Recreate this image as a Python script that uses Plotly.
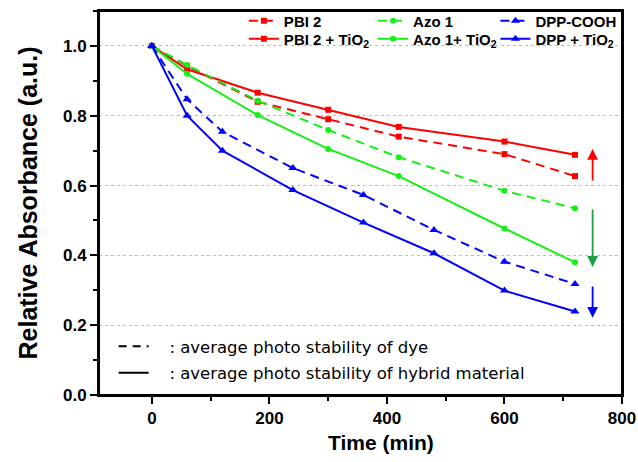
import plotly.graph_objects as go

# ---- data ----
t_pbi = [0, 60, 180, 300, 420, 600, 720]
pbi2 = [1.0, 0.943, 0.84, 0.79, 0.74, 0.69, 0.627]
pbi2_tio2 = [1.0, 0.933, 0.866, 0.817, 0.768, 0.726, 0.688]
azo1 = [1.0, 0.945, 0.843, 0.759, 0.681, 0.585, 0.535]
azo1_tio2 = [1.0, 0.92, 0.802, 0.705, 0.627, 0.477, 0.38]
t_dpp = [0, 60, 120, 240, 360, 480, 600, 720]
dpp = [1.0, 0.847, 0.754, 0.65, 0.573, 0.473, 0.382, 0.318]
dpp_tio2 = [1.0, 0.80, 0.70, 0.587, 0.494, 0.406, 0.299, 0.239]

# axis ranges
x_range = [-90, 800]
y_range = [0, 1.1]

# arrows: (x, tail y, head y, colour)
arrow_x = 750
arrows = [(0.610, 0.705, "#ff0000"), (0.536, 0.367, "#1f9e45"), (0.315, 0.221, "#0000ff")]

RED, GREEN, BLUE = "#ff0000", "#17ee17", "#0000ff"
DASH = "9px,6px"
FONT = "Arial, Liberation Sans, sans-serif"

fig = go.Figure()

# plot frame drawn along the axis range limits
fig.add_trace(go.Scatter(
    x=[x_range[0], x_range[1], x_range[1], x_range[0], x_range[0]],
    y=[y_range[0], y_range[0], y_range[1], y_range[1], y_range[0]],
    mode="lines", line=dict(color="black", width=2), cliponaxis=False,
    showlegend=False, hoverinfo="skip"))

def add(x, y, name, color, dash, symbol, size, legend):
    fig.add_trace(go.Scatter(
        x=x, y=y, name=name, mode="lines+markers",
        line=dict(color=color, width=2, dash=dash),
        marker=dict(symbol=symbol, size=size, color=color),
        legend=legend))

add(t_pbi, pbi2, "PBI 2", RED, DASH, "square", 6, "legend")
add(t_pbi, pbi2_tio2, "PBI 2 + TiO<sub>2</sub>", RED, "solid", "square", 6, "legend2")
add(t_pbi, azo1, "Azo 1", GREEN, DASH, "circle", 6, "legend3")
add(t_pbi, azo1_tio2, "Azo 1+ TiO<sub>2</sub>", GREEN, "solid", "circle", 6, "legend4")
add(t_dpp, dpp, "DPP-COOH", BLUE, DASH, "triangle-up", 8, "legend5")
add(t_dpp, dpp_tio2, "DPP + TiO<sub>2</sub>", BLUE, "solid", "triangle-up", 8, "legend6")

# key for line styles
fig.add_trace(go.Scatter(x=[None], y=[None], mode="lines", name="   : average photo stability of dye",
                         line=dict(color="black", width=2, dash="8px,6px"), legend="legend7",
                         legendgroup="a"))
fig.add_trace(go.Scatter(x=[None], y=[None], mode="lines", name="   : average photo stability of hybrid material",
                         line=dict(color="black", width=2), legend="legend7", legendgroup="b"))

for tail, head, col in arrows:
    fig.add_annotation(x=arrow_x, y=head, ax=arrow_x, ay=tail, xref="x", yref="y",
                       axref="x", ayref="y", showarrow=True, arrowhead=2, arrowsize=1.2,
                       arrowwidth=1.8, arrowcolor=col, text="")

# x-axis title (centred on the 0-800 span as in the reference)
fig.add_annotation(text="Time (min)", x=390, xref="x", y=0, yref="paper", yanchor="top",
                   yshift=-34, showarrow=False,
                   font=dict(family=FONT, size=21, color="black", weight="bold"))

leg_font = dict(family=FONT, size=15, color="black", weight="bold")
common = dict(bgcolor="rgba(0,0,0,0)", font=leg_font, xanchor="left", yanchor="top",
              orientation="v", itemwidth=30)
row1, row2 = 1.017, 0.970
cols = [0.277, 0.524, 0.758]

fig.update_layout(
    width=638, height=462,
    margin=dict(l=99, r=16, t=11, b=67, autoexpand=False),
    paper_bgcolor="white", plot_bgcolor="white",
    font=dict(family=FONT, color="black"),
    showlegend=True,
    legend=dict(x=cols[0], y=row1, **common),
    legend2=dict(x=cols[0], y=row2, **common),
    legend3=dict(x=cols[1], y=row1, **common),
    legend4=dict(x=cols[1], y=row2, **common),
    legend5=dict(x=cols[2], y=row1, **common),
    legend6=dict(x=cols[2], y=row2, **common),
    legend7=dict(x=0.028, y=0.172, bgcolor="rgba(0,0,0,0)", xanchor="left", yanchor="top",
                 font=dict(family="DejaVu Sans, sans-serif", size=16.5, color="black"),
                 tracegroupgap=2, itemwidth=30),
    xaxis=dict(range=x_range, tick0=0, dtick=200, showgrid=False,
               showline=True, mirror=True, linecolor="black", linewidth=2, automargin=False,
               ticks="outside", ticklen=7, tickwidth=1.5, tickcolor="black",
               minor=dict(dtick=100, ticks="outside", ticklen=4, tickcolor="black", showgrid=False),
               tickfont=dict(family=FONT, size=17, color="black", weight="bold"),
               zeroline=False),
    yaxis=dict(range=y_range, tick0=0, dtick=0.2, tickformat=".1f",
               showgrid=True, gridcolor="#bdbdbd", griddash="dot", gridwidth=1,
               showline=True, mirror=True, linecolor="black", linewidth=2, automargin=False,
               ticks="outside", ticklen=7, tickwidth=1.5, tickcolor="black",
               minor=dict(dtick=0.1, ticks="outside", ticklen=4, tickcolor="black", showgrid=False),
               tickfont=dict(family=FONT, size=17, color="black", weight="bold"),
               title=dict(text="Relative Absorbance (a.u.)", font=dict(family=FONT, size=25, weight="bold"),
                          standoff=18),
               zeroline=False),
)

fig.write_html("out.html", post_script="document.body.style.margin='0px';",
               config={"displayModeBar": False})
